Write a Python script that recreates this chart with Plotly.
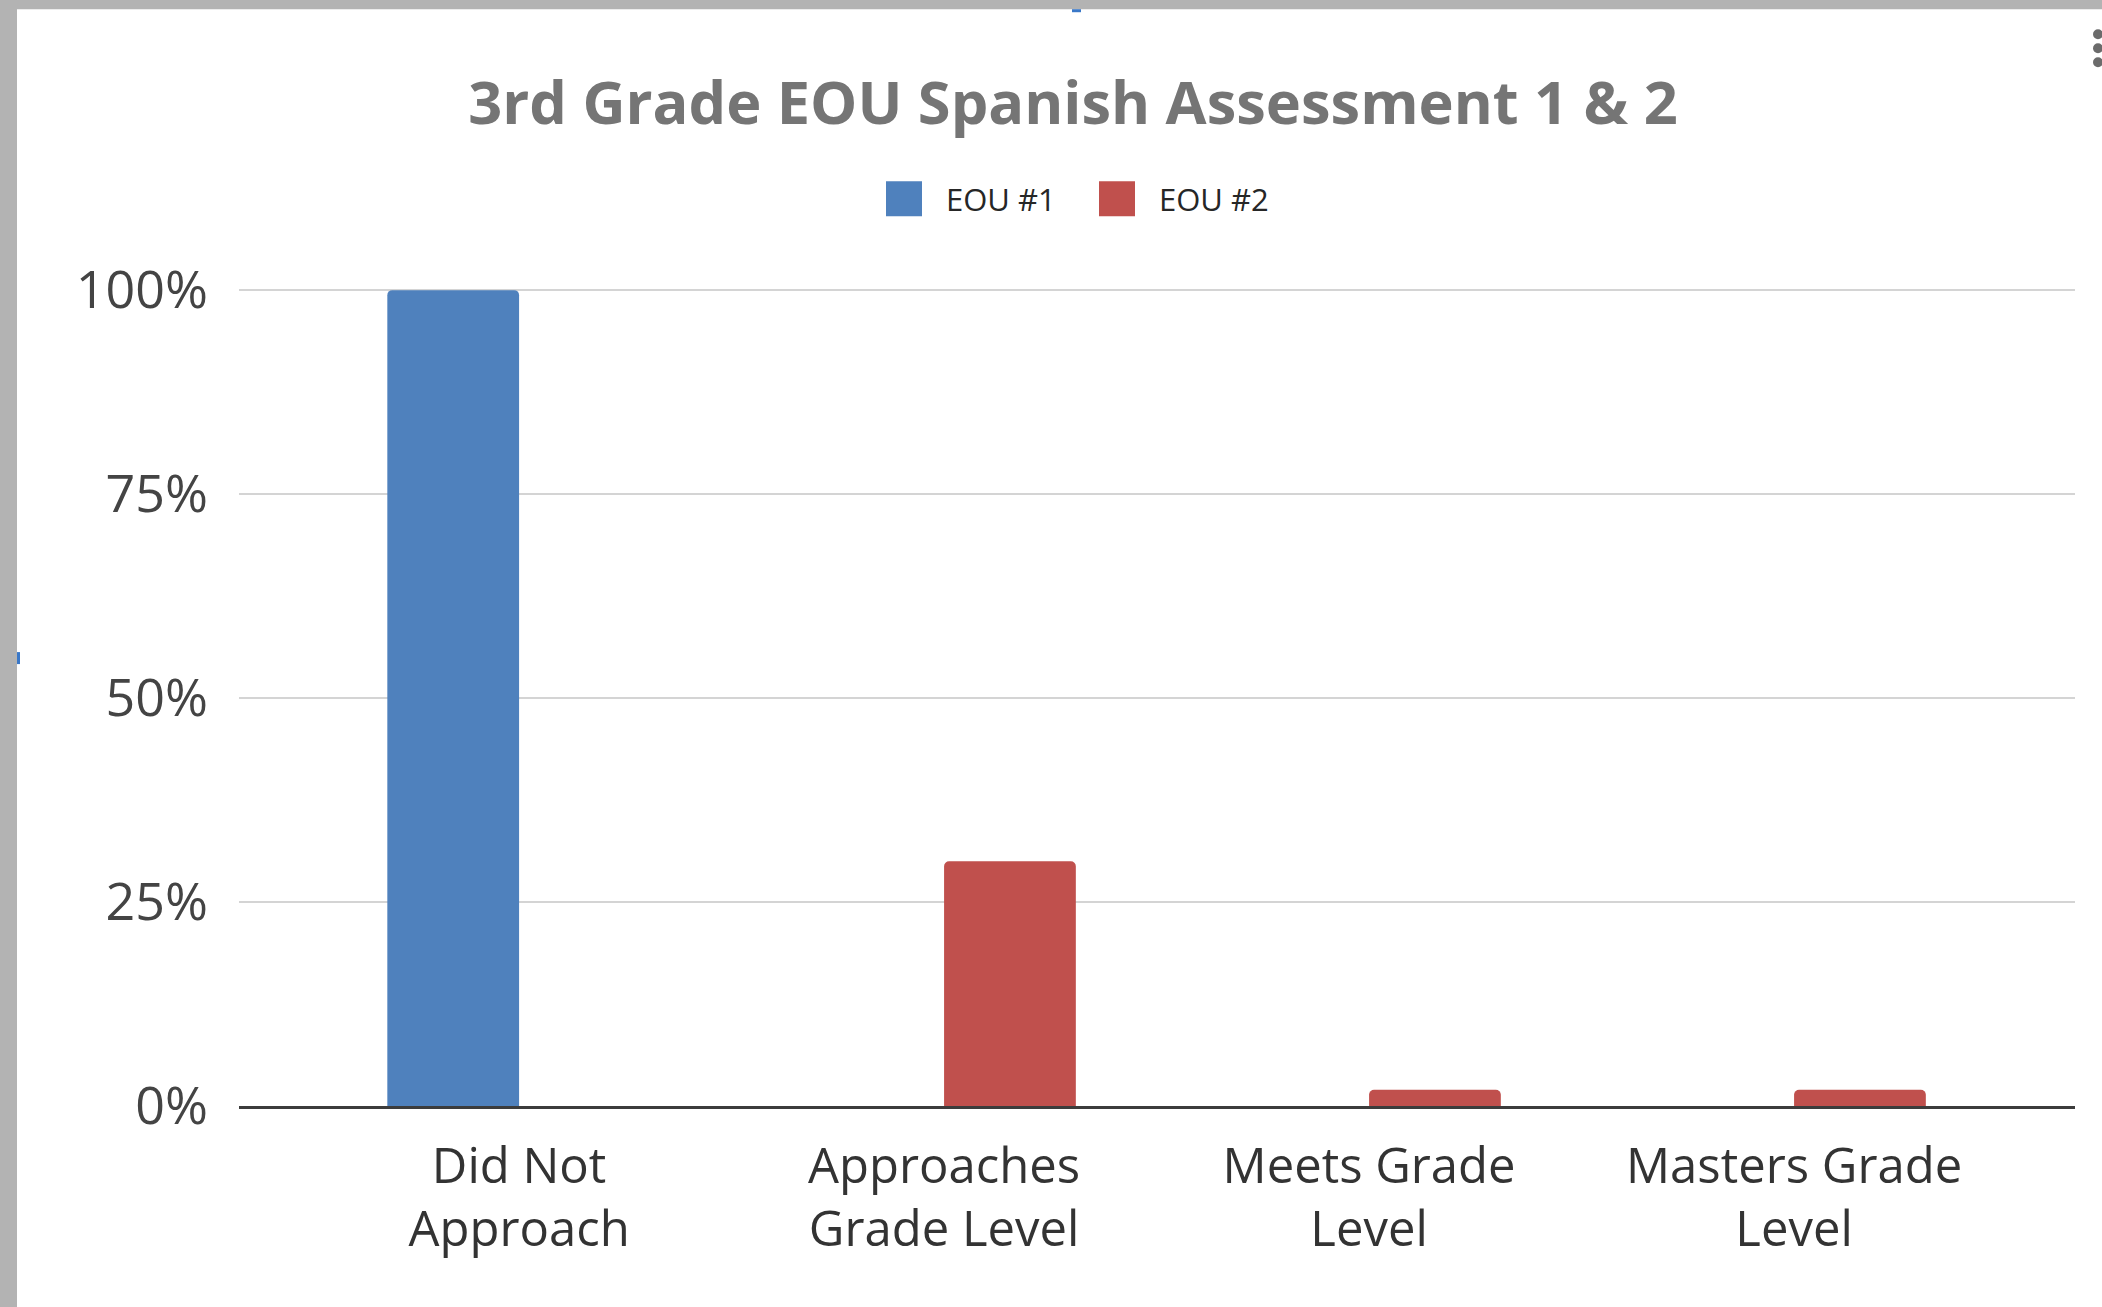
import plotly.graph_objects as go

# ---- data ----
categories = ["Did Not<br>Approach", "Approaches<br>Grade Level", "Meets Grade<br>Level", "Masters Grade<br>Level"]
series_names = ["EOU #1", "EOU #2"]
eou1_values = [100, 0, 0, 0]
eou2_values = [0, 30, 2, 2]
y_ticks = [0, 25, 50, 75, 100]
y_tick_labels = ["0%", "25%", "50%", "75%", "100%"]
title_text = "3rd Grade EOU Spanish Assessment 1 & 2"

colors = ["#4f81bd", "#c0504d"]

W, H = 2102, 1307
Y_MAX = 101
L, R, B = 239, 2075, 1106
T = B - (B - 290) * Y_MAX / 100.0


def px(x):
    return (x - L) / (R - L)


def py(y):
    return (B - y) / (B - T)


fig = go.Figure()
for name, vals, c in zip(series_names, [eou1_values, eou2_values], colors):
    fig.add_trace(go.Bar(x=list(range(len(categories))), y=vals, name=name,
                         marker=dict(color=c, line=dict(width=0), cornerradius=5),
                         showlegend=False))

shapes = []
# white card over gray frame
shapes.append(dict(type="rect", xref="paper", yref="paper", layer="below",
                   x0=px(17), x1=px(W + 20), y0=py(H + 20), y1=py(9),
                   fillcolor="white", line=dict(width=0)))
# legend swatches
legend_x = [886, 1099]
for lx, c in zip(legend_x, colors):
    shapes.append(dict(type="rect", xref="paper", yref="paper",
                       x0=px(lx), x1=px(lx + 36), y0=py(216), y1=py(181),
                       fillcolor=c, line=dict(width=0)))
# menu dots at top right
for dy in [34, 48, 62]:
    shapes.append(dict(type="circle", xref="paper", yref="paper",
                       x0=px(2093), x1=px(2103), y0=py(dy + 5), y1=py(dy - 5),
                       fillcolor="#6b6b6b", line=dict(width=0)))
# small blue marks
shapes.append(dict(type="rect", xref="paper", yref="paper",
                   x0=px(1072), x1=px(1081), y0=py(12), y1=py(9),
                   fillcolor="#3a78c8", line=dict(width=0)))
shapes.append(dict(type="rect", xref="paper", yref="paper",
                   x0=px(17), x1=px(20), y0=py(664), y1=py(652),
                   fillcolor="#3a78c8", line=dict(width=0)))

annotations = []
for lx, name in zip([944, 1157], series_names):
    annotations.append(dict(text=name, xref="paper", yref="paper", x=px(lx), y=py(199),
                            xanchor="left", yanchor="middle", showarrow=False,
                            font=dict(family="Open Sans", size=31, color="#262626")))

fig.update_layout(
    width=W, height=H,
    margin=dict(l=L, r=W - R, t=T, b=H - B, pad=0),
    paper_bgcolor="#b3b3b3",
    plot_bgcolor="white",
    barmode="group", bargap=0.38, bargroupgap=0,
    title=dict(text="<b>" + title_text + "</b>", xref="container", yref="container",
               x=1073 / W, y=1 - 103 / H, xanchor="center", yanchor="middle",
               font=dict(family="Open Sans", size=59.5, color="#757575")),
    shapes=shapes,
    annotations=annotations,
    xaxis=dict(tickmode="array", tickvals=list(range(len(categories))), ticktext=categories,
               range=[-0.659, 3.661], showgrid=False, zeroline=False,
               showline=True, linecolor="#3c3c3c", linewidth=2.5,
               ticks="", ticklabelstandoff=15,
               tickfont=dict(family="Open Sans", size=49, color="#333333")),
    yaxis=dict(range=[0, Y_MAX], tickvals=y_ticks, ticktext=y_tick_labels,
               showgrid=True, gridcolor="#d4d4d4", gridwidth=1.5,
               zeroline=False, showline=False, ticks="", ticklabelstandoff=30,
               tickfont=dict(family="Open Sans", size=52, color="#444444")),
)

fig.write_html("out.html", config={"displayModeBar": False},
               post_script="document.body.style.margin='0';document.body.style.overflow='hidden';")
